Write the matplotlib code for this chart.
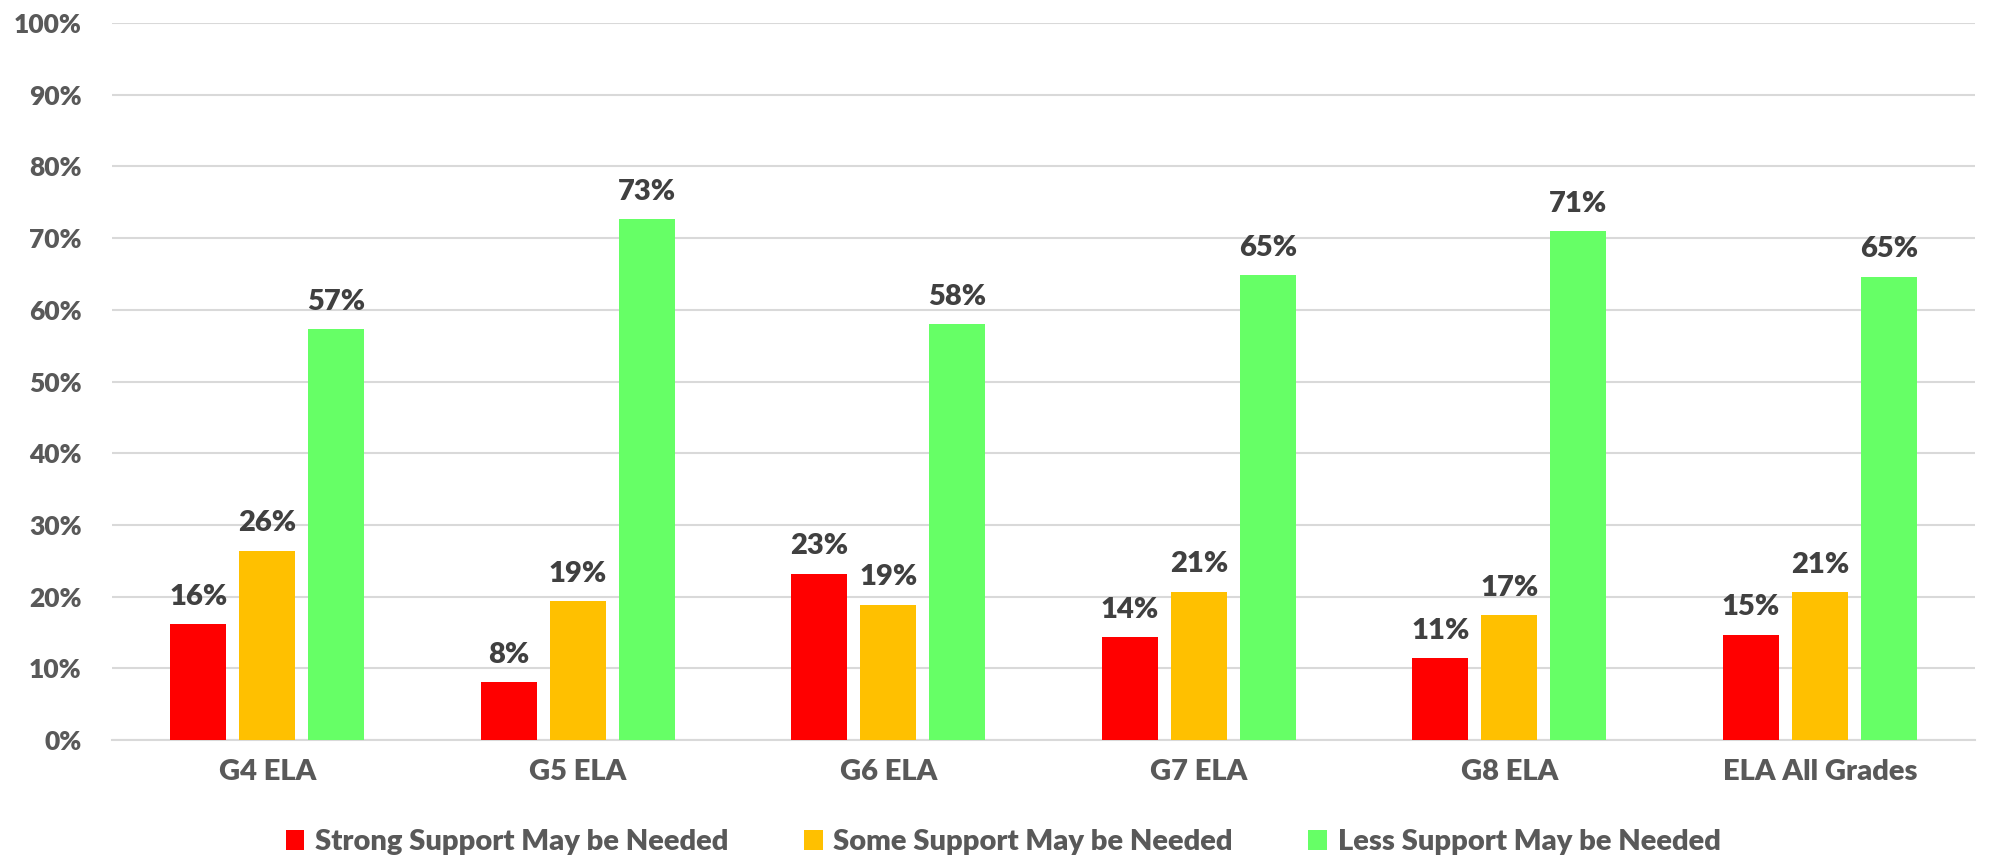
import matplotlib
matplotlib.use("Agg")
import matplotlib.pyplot as plt
import numpy as np

categories = ["G4 ELA", "G5 ELA", "G6 ELA", "G7 ELA", "G8 ELA", "ELA All Grades"]
series_names = ["Strong Support May be Needed", "Some Support May be Needed", "Less Support May be Needed"]
strong = [16.2, 8.1, 23.2, 14.3, 11.4, 14.7]
some = [26.4, 19.4, 18.9, 20.7, 17.4, 20.6]
less = [57.3, 72.6, 58.0, 64.8, 71.0, 64.6]
colors = ["#FF0000", "#FFC000", "#66FF66"]
yticks = [0, 10, 20, 30, 40, 50, 60, 70, 80, 90, 100]

plt.rcParams['font.family'] = ['Lato', 'DejaVu Sans']

fig = plt.figure(figsize=(19.94, 8.61), dpi=100)
ax = fig.add_axes([0.0562, 0.1405, 0.9343, 0.8328])

x = np.arange(len(categories))
width = 0.18
offset = 0.222
for i, (vals, name, c) in enumerate(zip([strong, some, less], series_names, colors)):
    pos = x + (i - 1) * offset
    bars = ax.bar(pos, vals, width=width, color=c, label=name, zorder=3)
    for b, v in zip(bars, vals):
        ax.text(b.get_x() + b.get_width() / 2, v + 2.0, f"{round(v)}%",
                ha="center", va="bottom", fontsize=21, fontweight="heavy",
                color="#404040")

ax.set_xlim(-0.5, len(categories) - 0.5)
ax.set_ylim(0, 100)
ax.set_yticks(yticks)
ax.set_yticklabels([f"{t}%" for t in yticks])
ax.set_xticks(x)
ax.set_xticklabels(categories)
ax.tick_params(axis="x", length=0, labelsize=21, labelcolor="#595959", pad=14)
ax.tick_params(axis="y", length=0, labelsize=19, labelcolor="#595959", pad=22)
for lab in ax.get_xticklabels() + ax.get_yticklabels():
    lab.set_fontweight("heavy")
ax.grid(axis="y", color="#D9D9D9", linewidth=1.5, zorder=0)
for s in ["top", "right", "left"]:
    ax.spines[s].set_visible(False)
ax.spines["bottom"].set_color("#D9D9D9")
ax.spines["bottom"].set_linewidth(1.5)

leg = ax.legend(loc="center", bbox_to_anchor=(0.503, 0.022), bbox_transform=fig.transFigure,
                ncol=3, frameon=False, fontsize=21, handlelength=0.65, handleheight=0.65,
                handletextpad=0.35, columnspacing=2.6)
for t in leg.get_texts():
    t.set_color("#595959")
    t.set_fontweight("heavy")

fig.savefig("out.png", dpi=100)
